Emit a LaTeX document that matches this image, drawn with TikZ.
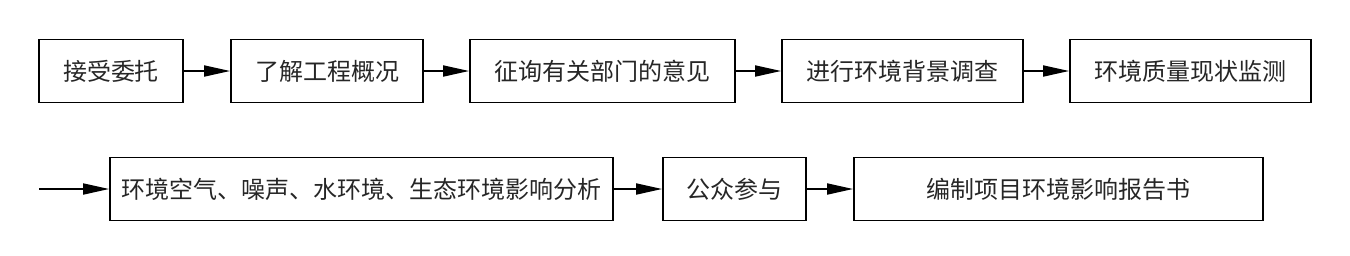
\documentclass[tikz,border=0pt]{standalone}
\usepackage{fontspec}
\newfontfamily\cjk{Noto Sans CJK SC}
\usetikzlibrary{arrows.meta}
\begin{document}
\begin{tikzpicture}[x=1pt,y=-1pt,
  stepbox/.style={draw=black,line width=1.8pt,minimum height=63pt,inner sep=0pt,
    font=\cjk\fontsize{24}{28}\selectfont,text=black!85},
  flow/.style={line width=1.8pt,-{Triangle[length=26pt,width=11pt]}}]
\useasboundingbox (0,0) rectangle (1350,255);
% row 1
\node[stepbox,minimum width=144pt] (b1) at (111,71) {接受委托};
\node[stepbox,minimum width=192pt] (b2) at (327,71) {了解工程概况};
\node[stepbox,minimum width=265pt] (b3) at (602.5,71) {征询有关部门的意见};
\node[stepbox,minimum width=241pt] (b4) at (902.5,71) {进行环境背景调查};
\node[stepbox,minimum width=241pt] (b5) at (1190.5,71) {环境质量现状监测};
% row 2
\node[stepbox,minimum width=503pt] (b6) at (361.5,189) {环境空气、噪声、水环境、生态环境影响分析};
\node[stepbox,minimum width=143pt] (b7) at (734.5,189) {公众参与};
\node[stepbox,minimum width=409pt] (b8) at (1058.5,189) {编制项目环境影响报告书};
\coordinate (in) at (39,189);
% arrows
\draw[flow] (b1) -- (b2);
\draw[flow] (b2) -- (b3);
\draw[flow] (b3) -- (b4);
\draw[flow] (b4) -- (b5);
\draw[flow] (in) -- (b6);
\draw[flow] (b6) -- (b7);
\draw[flow] (b7) -- (b8);
\end{tikzpicture}
\end{document}
